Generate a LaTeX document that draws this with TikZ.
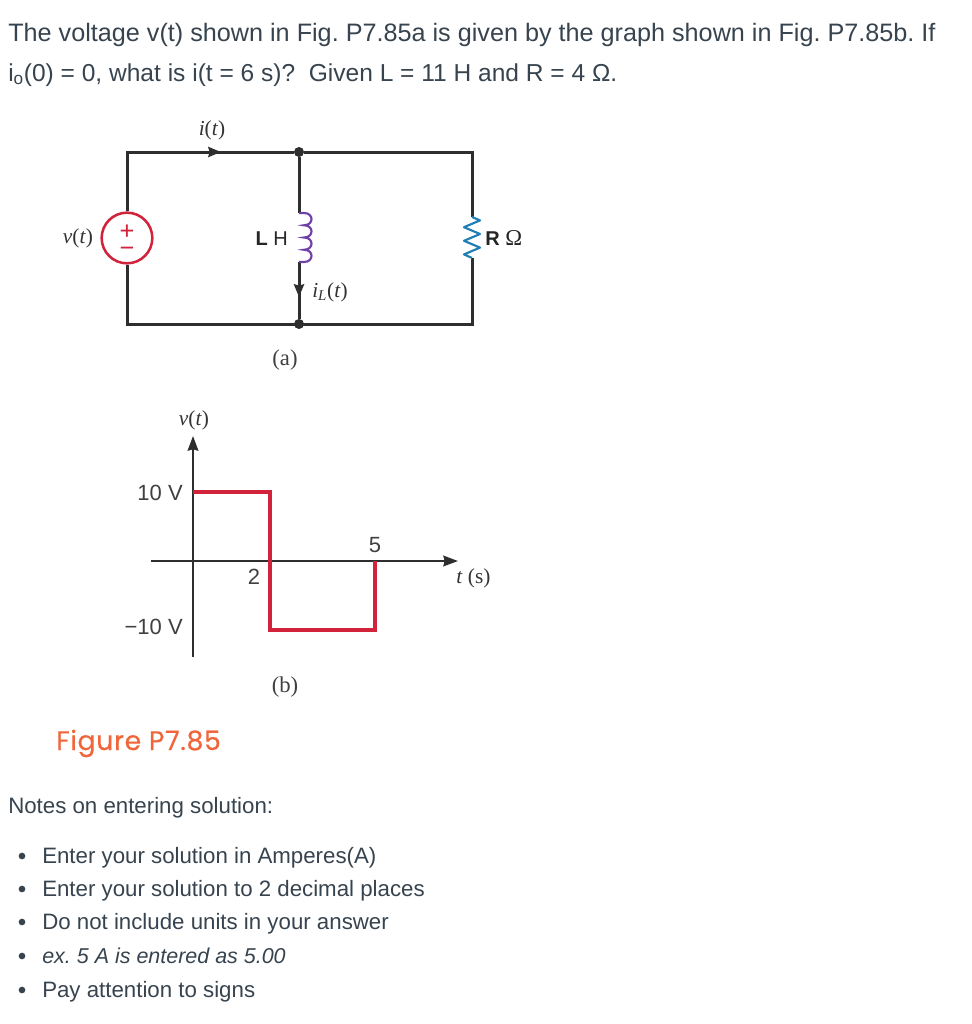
\documentclass[tikz,border=0pt]{standalone}
\usepackage{fontspec}
\usetikzlibrary{arrows.meta}
\newfontfamily\bodyfont{Liberation Sans}
\newfontfamily\capfont{Liberation Serif}
\newfontfamily\figfont[FakeBold=0.4,LetterSpace=2.5]{Poppins}
\definecolor{bodytext}{HTML}{37444F}
\definecolor{wirecol}{HTML}{2E2E2E}
\definecolor{srccol}{HTML}{D2233C}
\definecolor{indcol}{HTML}{7040A8}
\definecolor{rescol}{HTML}{1F7FB5}
\definecolor{figcol}{HTML}{F0653A}
\tikzset{
    wire/.style={draw=wirecol, line width=2.25pt, >={Stealth[length=9.5pt, width=7.5pt, inset=1pt]}},
    axisline/.style={draw=wirecol, line width=1.5pt, >={Stealth[length=11pt, width=8pt, inset=1pt]}},
    graphline/.style={draw=srccol, line width=3pt, line join=miter},
    jdot/.style={circle, fill=wirecol, inner sep=0pt, minimum size=7.5pt},
    prose/.style={anchor=base west, inner sep=0pt, text=bodytext, font=\bodyfont\fontsize{18.9}{20}\selectfont},
    notetext/.style={prose, font=\bodyfont\fontsize{16.7}{20}\selectfont},
    sublabel/.style={inner sep=0pt, text=black!80, font=\capfont\fontsize{16}{18}\selectfont},
    ticklabel/.style={inner sep=0pt, text=black!75, font=\bodyfont\fontsize{16.5}{18}\selectfont},
    partlabel/.style={inner sep=0pt, text=black!75, font=\capfont\fontsize{17}{19}\selectfont},
    elemlabel/.style={inner sep=0pt, text=black!85, font=\bodyfont\fontsize{15}{17}\selectfont},
    srcsign/.style={text=srccol, inner sep=0pt, align=center, font=\bodyfont\fontsize{19}{12.5}\selectfont},
}
\begin{document}
\frenchspacing
\begin{tikzpicture}[x=0.75pt, y=-0.75pt]
    \useasboundingbox[fill=white](0,0)rectangle(971,1024);
    % question
    \node[prose] (q1) at (8,42) {The voltage v(t) shown in Fig. P7.85a is given by the graph shown in Fig. P7.85b. If};
    \node[prose, font=\bodyfont\fontsize{18.4}{20}\selectfont] (q2) at (8,81) {i\textsubscript{o}(0) = 0, what is i(t = 6 s)?\ \ Given L = 11 H and R = 4 Ω.};
    % circuit
    \coordinate (tl) at (127,152);
    \coordinate (tr) at (472,152);
    \coordinate (bl) at (127,324);
    \coordinate (br) at (472,324);
    \coordinate (iarrow) at (221,152);
    \coordinate (ltop) at (299,213);
    \coordinate (lbot) at (299,262);
    \coordinate (larrow) at (299,297);
    \coordinate (rtop) at (472,217);
    \coordinate (rbot) at (472,258);
    \node[jdot] (jt) at (299,152) {};
    \node[jdot] (jb) at (299,324) {};
    \node[circle, draw=srccol, line width=1.9pt, minimum size=38pt, inner sep=0pt] (src) at (127,238) {};
    \node[srcsign] (sign) at (127,241) {+\\−};
    \draw[wire] (src) |- (jt) -- (tr) -- (rtop);
    \draw[wire, ->] (src) |- (iarrow);
    \draw[wire] (rbot) -- (br) -- (bl) -- (src);
    \draw[wire] (jt) -- (ltop);
    \draw[wire] (lbot) -- (jb);
    \draw[wire, ->] (lbot) -- (larrow);
    % inductor
    \draw[draw=indcol, line width=1.6pt] (ltop) --++(5,0)
        \foreach \y in {0,1,2,3}
            {
                ..controls +(10,0) and +(10,0).. ++(0,12.25)
            }
        -- (lbot);
    % resistor
    \draw[draw=rescol, line width=1.6pt, line join=round] (rtop)
        --++(8,3.4)--++(-16,6.8)--++(16,6.8)--++(-16,6.8)--++(16,6.8)--++(-16,6.8)--(rbot);
    % circuit labels
    \node[sublabel] (il) at (212,130) {\textit{i}(\textit{t})};
    \node[sublabel] (vl) at (78,238) {\textit{v}(\textit{t})};
    \node[elemlabel, anchor=base east] (lh) at (288,245) {\textbf{L} H};
    \node[elemlabel, anchor=base west] (rl) at (485,245) {\textbf{R} {\capfont\fontsize{17}{17}\selectfont Ω}};
    \node[sublabel] (ill) at (330,292) {\textit{i\textsubscript{L}}(\textit{t})};
    \node[partlabel] (capa) at (285,360) {(a)};
    % graph
    \coordinate (xstart) at (151,561);
    \coordinate (xend) at (458,561);
    \coordinate (ystart) at (193,657);
    \coordinate (yend) at (193,436);
    \draw[axisline, ->] (xstart) -- (xend);
    \draw[axisline, ->] (ystart) -- (yend);
    \draw[graphline] (193,492) -- (270,492) -- (270,630) -- (375,630) -- (375,561);
    \node[sublabel] (vaxis) at (194,420) {\textit{v}(\textit{t})};
    \node[ticklabel, anchor=east] (ten) at (183,493) {10 V};
    \node[ticklabel, anchor=east] (mten) at (183,627) {−10 V};
    \node[ticklabel] (two) at (254,577) {2};
    \node[ticklabel] (five) at (375,545) {5};
    \node[sublabel, anchor=west] (taxis) at (456,578) {\textit{t} (s)};
    \node[partlabel] (capb) at (285,687) {(b)};
    \node[anchor=base west, inner sep=0pt, text=figcol, font=\figfont\fontsize{20}{22}\selectfont] (fig) at (56,750) {Figure P7.85};
    % notes
    \node[notetext] (notes) at (8,813) {Notes on entering solution:};
    \foreach \y/\name/\txt in {863/a/Enter your solution in Amperes(A),
        896/b/Enter your solution to 2 decimal places,
        929/c/Do not include units in your answer,
        963/d/{\fontsize{16.1}{20}\selectfont\textit{ex. 5 A is entered as 5.00}},
        997/e/Pay attention to signs}
        {
            \node[fill=bodytext, circle, inner sep=0pt, minimum size=5pt] (bul\name) at (22,{\y-7}) {};
            \node[notetext] (item\name) at (42,\y) {\txt};
        }
\end{tikzpicture}
\end{document}
